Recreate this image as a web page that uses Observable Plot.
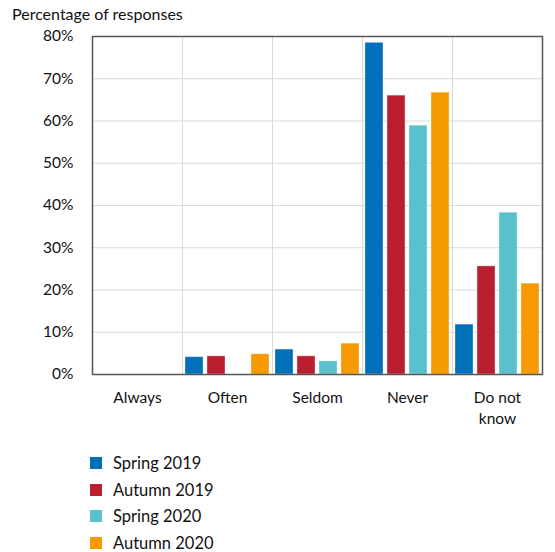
<!DOCTYPE html>
<html>
<head>
<meta charset="utf-8">
<script src="https://cdn.jsdelivr.net/npm/d3@7"></script>
<script src="https://cdn.jsdelivr.net/npm/@observablehq/plot@0.6"></script>
<style>
  html, body { margin: 0; padding: 0; background: #fff; }
  #wrap { position: relative; width: 555px; height: 552px; font-family: Lato, "Open Sans", sans-serif; color: #111; }
  #ylabel { position: absolute; left: 12px; top: 4px; font-size: 16px; }
  #chart { position: absolute; left: 0; top: 0; }
  #legend { position: absolute; left: 90px; top: 450px; font-size: 16.5px; }
  .item { display: flex; align-items: center; height: 26.5px; }
  .sw { width: 12px; height: 12px; margin-right: 11px; }
</style>
</head>
<body>
<div id="wrap">
  <div id="chart"></div>
  <div id="ylabel">Percentage of responses</div>
  <div id="legend"></div>
</div>
<script>
const categories = ["Always", "Often", "Seldom", "Never", "Do not know"];
const series = ["Spring 2019", "Autumn 2019", "Spring 2020", "Autumn 2020"];
const colors = ["#0070b8", "#b91f2e", "#5bc0cd", "#f59a00"];
const spring2019 = [0, 4.1, 5.9, 78.5, 11.8];
const autumn2019 = [0, 4.3, 4.3, 66.0, 25.6];
const spring2020 = [0, 0, 3.1, 58.9, 38.3];
const autumn2020 = [0, 4.8, 7.3, 66.7, 21.5];
const yTicks = [0, 10, 20, 30, 40, 50, 60, 70, 80];

const seriesValues = [spring2019, autumn2019, spring2020, autumn2020];
const data = [];
series.forEach((s, si) => {
  categories.forEach((c, ci) => {
    data.push({category: c, series: s, value: seriesValues[si][ci]});
  });
});

const chart = Plot.plot({
  width: 555,
  height: 430,
  marginLeft: 90,
  marginRight: 11,
  marginTop: 36,
  marginBottom: 56,
  style: {fontFamily: "Lato, 'Open Sans', sans-serif", fontSize: "15px", color: "#111", background: "transparent"},
  fx: {domain: categories, paddingInner: 0, paddingOuter: 0, label: null, axis: null},
  x: {domain: series, paddingInner: 0.18, paddingOuter: 0.11, axis: null},
  y: {domain: [0, 80], label: null},
  color: {domain: series, range: colors},
  marks: [
    Plot.gridY(yTicks, {stroke: "#d9d9d9", strokeOpacity: 1}),
    Plot.frame({stroke: "#d9d9d9", strokeOpacity: 1}),
    Plot.barY(data, {
      fx: "category", x: "series", y: "value", fill: "series",
      stroke: "white", strokeOpacity: 0.35, strokeWidth: 1,
      filter: d => d.value > 0
    }),
    Plot.frame({stroke: "#555", strokeWidth: 1.5, facet: "super"}),
    Plot.axisY(yTicks, {tickSize: 0, tickPadding: 19, fontSize: 15.5, tickFormat: d => d + "%", label: null}),
    Plot.axisFx({anchor: "bottom", tickSize: 0, tickPadding: 14, fontSize: 15.5, lineWidth: 4.5, lineHeight: 1.35, label: null})
  ]
});
document.getElementById("chart").appendChild(chart);

const legend = document.getElementById("legend");
series.forEach((s, i) => {
  const row = document.createElement("div");
  row.className = "item";
  const sw = document.createElement("div");
  sw.className = "sw";
  sw.style.background = colors[i];
  const t = document.createElement("span");
  t.textContent = s;
  row.appendChild(sw);
  row.appendChild(t);
  legend.appendChild(row);
});
</script>
</body>
</html>
